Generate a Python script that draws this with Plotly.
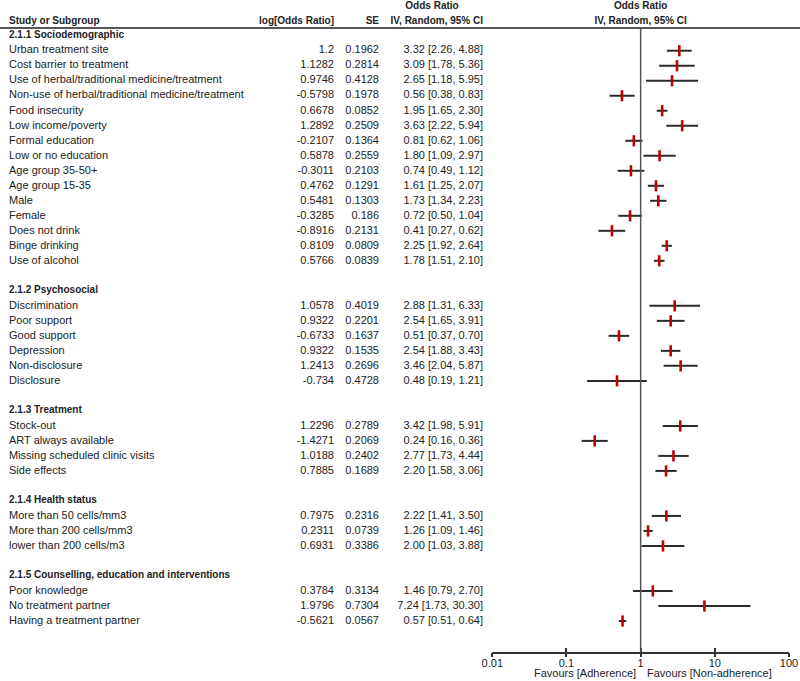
import plotly.graph_objects as go

# ---------------- data ----------------
group_titles = [
    "2.1.1 Sociodemographic",
    "2.1.2 Psychosocial",
    "2.1.3 Treatment",
    "2.1.4 Health status",
    "2.1.5 Counselling, education and interventions",
]
group_sizes = [15, 6, 4, 3, 3]

studies = [
    "Urban treatment site", "Cost barrier to treatment",
    "Use of herbal/traditional medicine/treatment",
    "Non-use of herbal/traditional medicine/treatment",
    "Food insecurity", "Low income/poverty", "Formal education",
    "Low or no education", "Age group 35-50+", "Age group 15-35", "Male",
    "Female", "Does not drink", "Binge drinking", "Use of alcohol",
    "Discrimination", "Poor support", "Good support", "Depression",
    "Non-disclosure", "Disclosure",
    "Stock-out", "ART always available", "Missing scheduled clinic visits",
    "Side effects",
    "More than 50 cells/mm3", "More than 200 cells/mm3", "lower than 200 cells/m3",
    "Poor knowledge", "No treatment partner", "Having a treatment partner",
]
log_or = [1.2, 1.1282, 0.9746, -0.5798, 0.6678, 1.2892, -0.2107, 0.5878, -0.3011,
          0.4762, 0.5481, -0.3285, -0.8916, 0.8109, 0.5766,
          1.0578, 0.9322, -0.6733, 0.9322, 1.2413, -0.734,
          1.2296, -1.4271, 1.0188, 0.7885,
          0.7975, 0.2311, 0.6931,
          0.3784, 1.9796, -0.5621]
se = [0.1962, 0.2814, 0.4128, 0.1978, 0.0852, 0.2509, 0.1364, 0.2559, 0.2103,
      0.1291, 0.1303, 0.186, 0.2131, 0.0809, 0.0839,
      0.4019, 0.2201, 0.1637, 0.1535, 0.2696, 0.4728,
      0.2789, 0.2069, 0.2402, 0.1689,
      0.2316, 0.0739, 0.3386,
      0.3134, 0.7304, 0.0567]
odds_ratio = [3.32, 3.09, 2.65, 0.56, 1.95, 3.63, 0.81, 1.80, 0.74, 1.61, 1.73, 0.72,
              0.41, 2.25, 1.78,
              2.88, 2.54, 0.51, 2.54, 3.46, 0.48,
              3.42, 0.24, 2.77, 2.20,
              2.22, 1.26, 2.00,
              1.46, 7.24, 0.57]
ci_low = [2.26, 1.78, 1.18, 0.38, 1.65, 2.22, 0.62, 1.09, 0.49, 1.25, 1.34, 0.50,
          0.27, 1.92, 1.51,
          1.31, 1.65, 0.37, 1.88, 2.04, 0.19,
          1.98, 0.16, 1.73, 1.58,
          1.41, 1.09, 1.03,
          0.79, 1.73, 0.51]
ci_high = [4.88, 5.36, 5.95, 0.83, 2.30, 5.94, 1.06, 2.97, 1.12, 2.07, 2.23, 1.04,
           0.62, 2.64, 2.10,
           6.33, 3.91, 0.70, 3.43, 5.87, 1.21,
           5.91, 0.36, 4.44, 3.06,
           3.50, 1.46, 3.88,
           2.70, 30.30, 0.64]
tick_values = [0.01, 0.1, 1, 10, 100]
tick_labels = ["0.01", "0.1", "1", "10", "100"]

# ---------------- layout of rows ----------------
W, H = 800, 681
ROW0, ROWH = 35.7, 15.0          # pixel centre of row 0 and row height
AX_BOTTOM = 651.7                # pixel y of the x axis line


def row_of(px):
    return (px - ROW0) / ROWH


header_rows, study_rows = [], []
r = 0
for gi, n in enumerate(group_sizes):
    if gi > 0:
        r += 1  # blank row
    header_rows.append(r)
    r += 1
    for _ in range(n):
        study_rows.append(r)
        r += 1

FONT = "Liberation Sans, Arial, sans-serif"
TXT = "#222222"
HDR = 10

fig = go.Figure()


def text_col(xs, ys, texts, pos, size=11, bold=False):
    fig.add_trace(go.Scatter(
        x=xs, y=ys, text=[f"<b>{t}</b>" if bold else t for t in texts],
        mode="text", textposition=pos, xaxis="x3", yaxis="y",
        textfont=dict(family=FONT, size=size, color=TXT),
        cliponaxis=False, hoverinfo="skip", showlegend=False))


n = len(studies)
text_col([9] * n, study_rows, studies, "middle right")
text_col([334] * n, study_rows, [f"{v:g}" for v in log_or], "middle left")
text_col([379] * n, study_rows, [f"{v:g}" for v in se], "middle left")
text_col([483] * n, study_rows,
         [f"{o:.2f} [{l:.2f}, {h:.2f}]" for o, l, h in zip(odds_ratio, ci_low, ci_high)],
         "middle left")
text_col([9] * len(group_titles), header_rows, group_titles, "middle right", HDR, True)

# column headers
hy = row_of(21.0)
oy = row_of(6.0)
text_col([9], [hy], ["Study or Subgroup"], "middle right", HDR, True)
text_col([334], [hy], ["log[Odds Ratio]"], "middle left", HDR, True)
text_col([379], [hy], ["SE"], "middle left", HDR, True)
text_col([483], [hy], ["IV, Random, 95% CI"], "middle left", HDR, True)
text_col([432], [oy], ["Odds Ratio"], "middle center", HDR, True)

# whiskers (CI)
wx, wy = [], []
for lo, hi, y in zip(ci_low, ci_high, study_rows):
    wx += [lo, hi, None]
    wy += [y, y, None]
fig.add_trace(go.Scatter(x=wx, y=wy, mode="lines", xaxis="x", yaxis="y",
                         line=dict(color="#2a2a2a", width=2), hoverinfo="skip",
                         showlegend=False))
# point estimates
fig.add_trace(go.Scatter(x=odds_ratio, y=study_rows, mode="markers", xaxis="x", yaxis="y",
                         marker=dict(symbol="line-ns", size=8,
                                     line=dict(color="#c00000", width=2.6)),
                         hoverinfo="skip", showlegend=False))
fig.add_trace(go.Scatter(x=[1, 1], y=[oy, hy],
                         text=["<b>Odds Ratio</b>", "<b>IV, Random, 95% CI</b>"],
                         mode="text", textposition="middle center", xaxis="x", yaxis="y",
                         textfont=dict(family=FONT, size=HDR, color=TXT),
                         cliponaxis=False, hoverinfo="skip", showlegend=False))
# dummy trace so the overlaid tick axis renders
fig.add_trace(go.Scatter(x=[1], y=[0], xaxis="x2", yaxis="y", mode="markers",
                         marker=dict(opacity=0), hoverinfo="skip", showlegend=False))

line_row = row_of(28.0)
fig.add_shape(type="line", xref="x3", yref="y", x0=0, x1=W, y0=line_row, y1=line_row,
              line=dict(color="#555555", width=2), layer="above")
fig.add_shape(type="line", xref="x", yref="y", x0=1, x1=1, y0=line_row, y1=row_of(AX_BOTTOM),
              line=dict(color="#555555", width=1.5), layer="above")

fig.add_annotation(x=0, xref="x", y=0, yref="paper", yanchor="middle", yshift=-21,
                   xanchor="right", xshift=-3, text="Favours [Adherence]", showarrow=False,
                   font=dict(family=FONT, size=11, color=TXT))
fig.add_annotation(x=0, xref="x", y=0, yref="paper", yanchor="middle", yshift=-21,
                   xanchor="left", xshift=4, text="Favours [Non-adherence]", showarrow=False,
                   font=dict(family=FONT, size=11, color=TXT))

x0px, x1px = 492.3, 789.0
fig.update_layout(
    width=W, height=H,
    margin=dict(l=0, r=0, t=0, b=H - AX_BOTTOM, autoexpand=False),
    paper_bgcolor="white", plot_bgcolor="rgba(0,0,0,0)",
    font=dict(family=FONT, size=11, color=TXT),
    xaxis=dict(type="log", range=[-2, 2], domain=[x0px / W, x1px / W], anchor="y",
               tickvals=tick_values, ticktext=tick_labels, ticks="inside", ticklen=4,
               tickcolor="#333333", tickwidth=1.5, showline=True, linecolor="#333333",
               linewidth=1.5, showgrid=False, zeroline=False, automargin=False,
               tickfont=dict(family=FONT, size=11, color=TXT)),
    xaxis2=dict(type="log", range=[-2, 2], overlaying="x", anchor="y", side="bottom",
                tickvals=tick_values, ticks="outside", ticklen=4, tickcolor="#333333",
                tickwidth=1.5, showticklabels=False, showline=False, showgrid=False,
                zeroline=False),
    xaxis3=dict(range=[0, W], domain=[0, 1], anchor="y", visible=False, fixedrange=True),
    yaxis=dict(range=[row_of(AX_BOTTOM), row_of(0)], visible=False, domain=[0, 1],
               automargin=False),
)

fig.write_html("out.html", config={"displayModeBar": False},
               post_script="document.body.style.margin='0';document.body.style.overflow='hidden';")
